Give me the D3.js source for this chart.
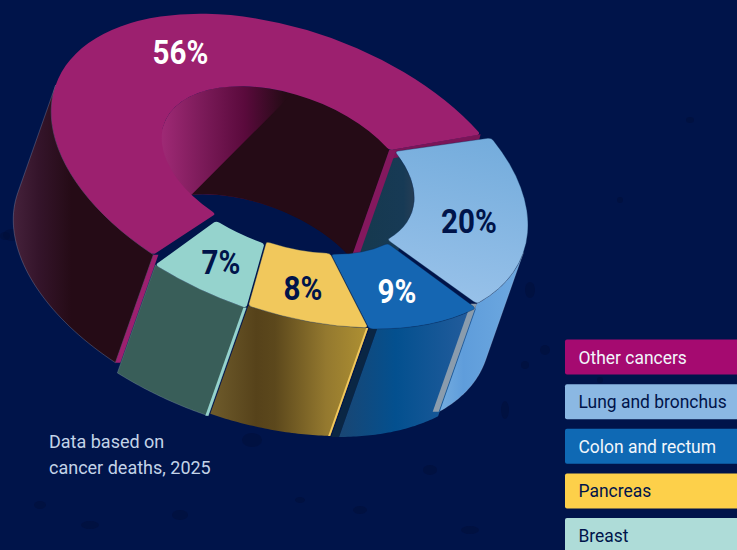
<!DOCTYPE html>
<html>
<head>
<meta charset="utf-8">
<script src="https://cdn.jsdelivr.net/npm/d3@7/dist/d3.min.js"></script>
<style>
html,body{margin:0;padding:0;background:#00144a;overflow:hidden}
svg{display:block}
text{font-family:"Roboto",sans-serif}
.pct{font-weight:700;font-size:34px;text-anchor:middle}
</style>
</head>
<body>
<svg id="chart" width="737" height="550"></svg>
<script>
// Leading causes of cancer death, 2025
const categories = ["Lung and bronchus","Colon and rectum","Pancreas","Breast","Other cancers"];
const shares = [20, 9, 8, 7, 56];
const labels = ["20%","9%","8%","7%","56%"];
const legendOrder = ["Other cancers","Lung and bronchus","Colon and rectum","Pancreas","Breast"];
const caption = ["Data based on","cancer deaths, 2025"];

const topColor = ["#84b5e2","#1566b2","#f1c85c","#95d3cd","#9c206f"];
const keyColor = {"Other cancers":"#a50a70","Lung and bronchus":"#8bb8e3","Colon and rectum":"#0f69b4","Pancreas":"#fdd04a","Breast":"#aedcd8"};
const keyText = {"Other cancers":"#f2f6fb","Lung and bronchus":"#00144a","Colon and rectum":"#f2f6fb","Pancreas":"#00144a","Breast":"#00144a"};
const labelColor = ["#00144a","#ffffff","#00144a","#00144a","#ffffff"];
const labelAt = [[469,221],[397,291],[303,288],[221,262],[180.5,52]];

// Per-slice placement of the pulled-apart wedges
const shiftX = [1,3,2,0,1];
const shiftY = [-1,2,1,3,0];
const scaleBy = [1,1,1,1,.97];
const insetStart = [2,1,0,0,0];
const insetEnd = [0,0,0,2,0];

// Projection of the flat ring: tilted ellipse plus a slanted extrusion
const cx = 285, cy = 168, R = 242, holeRatio = 0.53;
const skewY = 58/242, squash = 148/242;
const ext = [-38,108];
const rad = d => d*Math.PI/180;
const startAngle = rad(56);
const silhouetteA = rad(101.2), silhouetteB = rad(281.2);   // where the outer wall meets the outline

const svg = d3.select("#chart");
const defs = svg.append("defs");

function gradient(id, x1, x2, stops){
  const g = defs.append("linearGradient").attr("id",id).attr("gradientUnits","userSpaceOnUse")
    .attr("x1",x1).attr("x2",x2).attr("y1",0).attr("y2",0);
  stops.forEach(s=>g.append("stop").attr("offset",s[0]).attr("stop-color",s[1]));
  return `url(#${id})`;
}

// Faint blots scattered over the backdrop
const blots = [[12,235,9,6],[5,236,5,4],[210,300,8,6],[252,440,10,7],[180,515,8,5],[545,350,5,5],[530,290,5,8],[525,365,4,4],
  [505,410,4,9],[430,470,7,5],[470,530,9,4],[360,510,7,4],[600,380,3,3],[90,525,9,4],[620,200,3,3],[690,120,4,3],[300,500,5,3],[40,505,6,4]];
svg.append("rect").attr("width",737).attr("height",550).attr("fill","#00144a");
svg.append("g").selectAll("ellipse").data(blots).join("ellipse")
  .attr("cx",d=>d[0]).attr("cy",d=>d[1]).attr("rx",d=>d[2]).attr("ry",d=>d[3]).attr("fill","#000e38").attr("opacity",.5);

const pie = d3.pie().sort(null).startAngle(startAngle).endAngle(startAngle+2*Math.PI).value(d=>d);
const slices = pie(shares).map((s,i)=>Object.assign(s,{
  i, ox:cx+shiftX[i], oy:cy+shiftY[i], k:scaleBy[i],
  a0:s.startAngle+rad(insetStart[i]), a1:s.endAngle-rad(insetEnd[i])
}));

const rScale = d3.scaleLinear().domain([0,1]).range([0,R]);
const project = (s,ratio,a,drop=0) => {
  const r=rScale(ratio)*s.k, x=r*Math.sin(a), y=-r*Math.cos(a);
  return [s.ox+x+drop*ext[0], s.oy+x*skewY+y*squash+drop*ext[1]];
};
const line = d3.line().curve(d3.curveLinear);
const sweep = (a0,a1) => d3.range(0,41).map(k=>a0+(a1-a0)*k/40);

// Band between a ring edge at the top plane and the same edge at the bottom plane
function wall(s,ratio,a0,a1){
  const top=sweep(a0,a1).map(a=>project(s,ratio,a,0));
  const bot=sweep(a1,a0).map(a=>project(s,ratio,a,1));
  return line(top.concat(bot))+"Z";
}
const quad = pts => line(pts)+"Z";
// Narrow strip running down a cut edge
function strip(s,a,dx,fill,ratio=1){
  const p=project(s,ratio,a,0), q=project(s,ratio,a,1);
  g.append("path").attr("d",quad([p,[p[0]+dx,p[1]],[q[0]+dx,q[1]],q])).attr("fill",fill);
}
const faceTransform = d => `matrix(${d.k},${skewY*d.k},0,${squash*d.k},${d.ox},${d.oy})`;

const arc = d3.arc().innerRadius(rScale(holeRatio)).outerRadius(rScale(1)).cornerRadius(4)
  .startAngle(d=>d.a0).endAngle(d=>d.a1);
const [lung,colon,pancreas,breast,other] = slices;
const edge = "rgba(190,205,225,.35)";

// Far side: walls of the hole
const g = svg.append("g");
const innerGrad = gradient("innerOther",160,285,[[0,"#a02a76"],[.35,"#7a1a58"],[.68,"#5a0a3c"],[1,"#250b16"]]);
g.append("path").attr("d",wall(other,holeRatio,silhouetteB,other.a1)).attr("fill",innerGrad);
// darker part of the wall behind the diagonal seam
{
  const top=sweep(rad(363),other.a1).map(a=>project(other,holeRatio,a,0));
  const bot=sweep(other.a1,rad(333)).map(a=>project(other,holeRatio,a,1));
  g.append("path").attr("d",line(top.concat(bot))+"Z").attr("fill","#250b16");
}
g.append("path").attr("d",wall(lung,holeRatio,lung.a0-rad(3),rad(101.2)))
  .attr("fill",gradient("innerLung",365,420,[[0,"#16394f"],[.7,"#173a55"],[1,"#2d3f55"]]));

// Outer wall of the large slice
g.append("path").attr("d",wall(other,1,other.a0,silhouetteB))
  .attr("fill",gradient("outerOther",12,120,[[0,"#46223c"],[.25,"#34142a"],[.55,"#250b16"],[1,"#250b16"]]))
  .attr("stroke",edge).attr("stroke-width",.7);
// Thin lit edges of the large slice at both cuts
strip(other,other.a0,5,"#9c206f");
{
  const e=other.a1;
  const i=project(other,holeRatio,e,0), o=project(other,1,e,0);
  g.append("path").attr("d",quad([i,o,[o[0]-2,o[1]+8],[i[0]-1,i[1]+9]])).attr("fill","#7a1558");
  strip(other,e,7,"#84185e",holeRatio);
}
g.append("path").datum(other).attr("d",arc).attr("transform",faceTransform).attr("fill",topColor[4]);

// Front walls, right to left
g.append("path").attr("d",wall(lung,1,silhouetteA,lung.a1))
  .attr("fill",gradient("outerLung",437,525,[[0,"#76aee0"],[.3,"#5f9ddb"],[1,"#6ea9e0"]])).attr("stroke",edge).attr("stroke-width",.7);
// The end of the blue wall falls into shadow, leaving a dark gap beside the gold wall
const colonShade = colon.a1-rad(2);
g.append("path").attr("d",wall(colon,1,colonShade,colon.a1)).attr("fill","#0a2644");
g.append("path").attr("d",wall(colon,1,colon.a0,colonShade))
  .attr("fill",gradient("outerColon",335,470,[[0,"#1b4571"],[.45,"#03508f"],[1,"#235c9c"]]));
strip(lung,lung.a1,-6,"#8a9cad");

g.append("path").attr("d",wall(pancreas,1,pancreas.a0,pancreas.a1))
  .attr("fill",gradient("outerPancreas",210,365,[[0,"#6f5c2c"],[.3,"#56421a"],[.42,"#5c481c"],[.75,"#94792f"],[1,"#ad8f32"]]));
strip(pancreas,pancreas.a0,-2,"#f1c85c");

g.append("path").attr("d",wall(breast,1,breast.a0,breast.a1))
  .attr("fill","#395e59").attr("stroke",edge).attr("stroke-width",.6);
strip(breast,breast.a0,-3,"#95d3cd");

// Top faces of the four smaller slices
const lungTop = defs.append("linearGradient").attr("id","topLung").attr("x1",0).attr("x2",0).attr("y1",0).attr("y2",1);
lungTop.append("stop").attr("offset",0).attr("stop-color","#74acdc");
lungTop.append("stop").attr("offset",1).attr("stop-color","#97c1e9");
g.selectAll("path.top").data([lung,colon,pancreas,breast]).join("path").attr("class","top")
  .attr("d",arc).attr("transform",faceTransform)
  .attr("fill",d=>d.i===0?"url(#topLung)":topColor[d.i])
  .attr("stroke",d=>d.i===3?"none":"#0a2a55").attr("stroke-width",.8).attr("stroke-opacity",.5);

// Percentage labels
svg.append("g").selectAll("text").data(labels).join("text").attr("class","pct")
  .attr("transform",(d,i)=>`translate(${labelAt[i][0]},${labelAt[i][1]+12}) scale(.87,1)`)
  .attr("fill",(d,i)=>labelColor[i]).text(d=>d);

// Caption
svg.append("g").selectAll("text").data(caption).join("text")
  .attr("x",49).attr("y",(d,i)=>448+i*26).attr("font-size",18).attr("fill","#c3d3e8").text(d=>d);

// Legend, running off the right-hand side
const keyY = d3.scalePoint().domain(legendOrder).range([339.5,518]);
const key = svg.append("g").selectAll("g").data(legendOrder).join("g").attr("transform",d=>`translate(565,${keyY(d)})`);
key.append("rect").attr("width",190).attr("height",35).attr("rx",2).attr("fill",d=>keyColor[d]);
key.append("text").attr("transform","translate(13.5,24) scale(.97,1)").attr("font-size",18).attr("fill",d=>keyText[d]).text(d=>d);
</script>
</body>
</html>
